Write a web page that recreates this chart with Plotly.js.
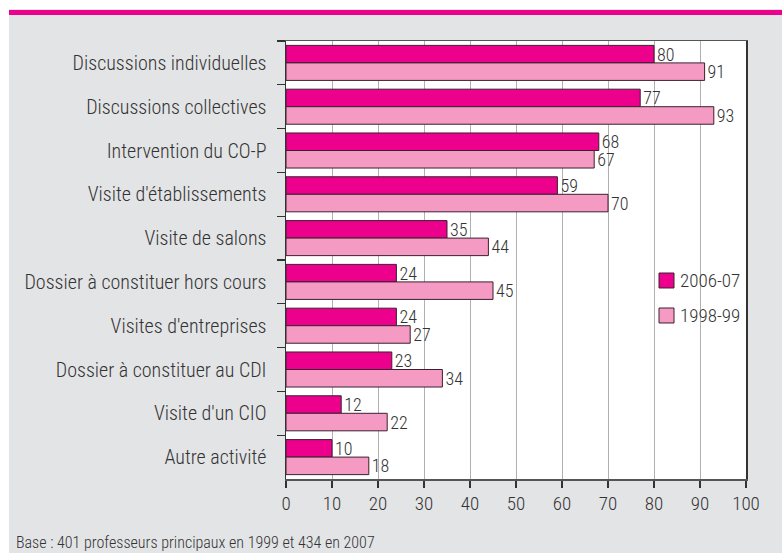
<!DOCTYPE html>
<html>
<head>
<meta charset="utf-8">
<script src="https://cdn.plot.ly/plotly-3.0.1.min.js"></script>
<style>
html,body{margin:0;padding:0;background:#ffffff;width:782px;height:553px;overflow:hidden;}
#chart{position:absolute;left:9px;top:9px;width:773px;height:544px;}
</style>
</head>
<body>
<div id="chart"></div>
<script>
var categories = ["Discussions individuelles","Discussions collectives","Intervention du CO-P","Visite d'établissements","Visite de salons","Dossier à constituer hors cours","Visites d'entreprises","Dossier à constituer au CDI","Visite d'un CIO","Autre activité"];
var series2007 = [80,77,68,59,35,24,24,23,12,10];
var series1999 = [91,93,67,70,44,45,27,34,22,18];
var seriesNames = ["2006-07","1998-99"];
var seriesColors = ["#ec008c","#f49ac3"];
var xTicks = [0,10,20,30,40,50,60,70,80,90,100];
var footnote = "Base : 401 professeurs principaux en 1999 et 434 en 2007";

var FONT = "'Roboto Condensed', 'Liberation Sans Narrow', 'Arial Narrow', 'DejaVu Sans Condensed', Roboto, sans-serif";
var TXT = "#333333";
var OUTLINE = "#3a2030";
var W = 300;

function bar(vals, i){
  return {
    type:"bar", orientation:"h", x:vals, y:categories, name:seriesNames[i],
    marker:{color:seriesColors[i], line:{color:OUTLINE, width:1}},
    text:vals.map(String), textposition:"outside", cliponaxis:false, constraintext:"none",
    textfont:{family:FONT, size:18, color:TXT, weight:W},
    showlegend:false, hoverinfo:"x+name"
  };
}

var data = [bar(series2007, 0), bar(series1999, 1)];

// custom legend (swatch + label) placed like the reference
var legX0 = 0.8109, legX1 = 0.8435, legTextX = 0.852;
var legTop = [0.4703, 0.3904], legH = 0.0342;
var shapes = [
  {type:"rect", xref:"paper", yref:"paper", x0:-0.61, x1:1.09, y0:1.0594, y1:1.0708,
   fillcolor:"#ec008c", line:{width:0}, layer:"above"}
];
var annotations = [
  {text:footnote, xref:"paper", yref:"paper", x:-0.5913, y:-0.1461, xanchor:"left", yanchor:"middle",
   showarrow:false, font:{family:FONT, size:16, color:TXT, weight:W}}
];
seriesNames.forEach(function(n, i){
  shapes.push({type:"rect", xref:"paper", yref:"paper", x0:legX0, x1:legX1,
    y0:legTop[i]-legH, y1:legTop[i], fillcolor:seriesColors[i], line:{color:OUTLINE, width:1}, layer:"above"});
  annotations.push({text:n, xref:"paper", yref:"paper", x:legTextX, y:legTop[i]-legH/2,
    xanchor:"left", yanchor:"middle", showarrow:false, font:{family:FONT, size:19, color:TXT, weight:W}});
});

var layout = {
  width:773, height:544,
  margin:{l:277, r:36, t:32, b:74},
  paper_bgcolor:"#e3e4e6", plot_bgcolor:"#ffffff",
  barmode:"group", bargap:0.2, bargroupgap:0,
  font:{family:FONT, size:16, color:TXT, weight:W},
  showlegend:false,
  xaxis:{range:[0,100], tickvals:xTicks, ticktext:xTicks.map(String),
         showgrid:true, gridcolor:"#b0b0b0", gridwidth:1,
         ticks:"outside", ticklen:7, tickcolor:"#333", tickwidth:1.2,
         showline:true, linecolor:"#555", linewidth:1.5, mirror:true,
         zeroline:false, tickfont:{family:FONT, size:19, color:TXT, weight:W}, fixedrange:true},
  yaxis:{type:"category", autorange:"reversed", tickson:"boundaries",
         ticks:"outside", ticklen:8, tickcolor:"#333", tickwidth:1.2,
         showline:true, linecolor:"#333", linewidth:1.5, mirror:true,
         showgrid:false, ticklabelstandoff:14,
         tickfont:{family:FONT, size:20, color:TXT, weight:W}, fixedrange:true},
  shapes:shapes,
  annotations:annotations
};

Plotly.newPlot("chart", data, layout, {displayModeBar:false, staticPlot:true});
</script>
</body>
</html>
